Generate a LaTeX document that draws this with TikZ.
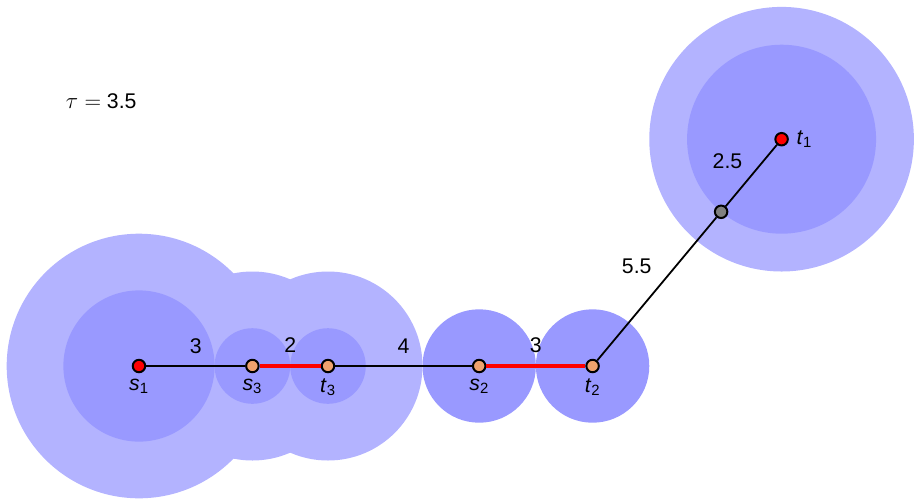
\documentclass[tikz,border=0pt]{standalone}
\usepackage{fontspec}
\setmainfont{Liberation Sans}
\usetikzlibrary{calc,positioning}
\definecolor{ballout}{HTML}{B3B3FF}
\definecolor{ballin}{HTML}{9999FF}
\definecolor{termred}{HTML}{FF0000}
\definecolor{termorange}{HTML}{EFA26E}
\definecolor{steiner}{HTML}{808080}

\begin{document}
\begin{tikzpicture}[
  vert/.style={draw,circle,line width=1.5pt,inner sep=0pt,minimum size=0.33cm},
  lbl/.style={font=\fontsize{16}{19}\selectfont},
  edge/.style={line width=1.35pt},
  matched/.style={line width=3pt,termred}]
  \useasboundingbox (-3.677,-3.492) rectangle (20.503,9.683);

  % terminal positions
  \coordinate (ps1) at (0,0);
  \coordinate (ps3) at (3,0);
  \coordinate (pt3) at (5,0);
  \coordinate (ps2) at (9,0);
  \coordinate (pt2) at (12,0);
  \coordinate (pt1) at (17,6);
  \coordinate (pm) at ($(pt2)!0.68!(pt1)$);

  % balls
  \fill[ballout] (ps1) circle (3.5);
  \fill[ballout] (ps3) circle (2.5);
  \fill[ballout] (pt3) circle (2.5);
  \fill[ballout] (pt1) circle (3.5);
  \fill[ballin] (ps1) circle (2);
  \fill[ballin] (ps3) circle (1);
  \fill[ballin] (pt3) circle (1);
  \fill[ballin] (pt1) circle (2.5);
  \fill[ballin] (ps2) circle (1.5);
  \fill[ballin] (pt2) circle (1.5);

  \node[lbl] (tau) at (-1,7) {$\tau =$ 3.5};

  % vertices
  \node[vert,fill=termred] (s1) at (ps1) {};
  \node[vert,fill=termorange] (s3) at (ps3) {};
  \node[vert,fill=termorange] (t3) at (pt3) {};
  \node[vert,fill=termorange] (s2) at (ps2) {};
  \node[vert,fill=termorange] (t2) at (pt2) {};
  \node[vert,fill=termred] (t1) at (pt1) {};
  \node[vert,fill=steiner] (m) at (pm) {};

  % edges
  \draw[edge] (s1) -- node[lbl,above=0.18cm] {3} (s3);
  \draw[matched] (s3) -- node[lbl,above=0.18cm,black] {2} (t3);
  \draw[edge] (t3) -- node[lbl,above=0.18cm] {4} (s2);
  \draw[matched] (s2) -- node[lbl,above=0.18cm,black] {3} (t2);
  \draw[edge] (t2) -- node[lbl,above left=0.25cm and 0cm] {5.5} (m);
  \draw[edge] (m) -- node[lbl,above left=0.05cm and 0.1cm] {2.5} (t1);

  % vertex names
  \node[lbl,below=0.02cm of s1] (ls1) {\textit{s}\textsubscript{1}};
  \node[lbl,below=0.02cm of s3] (ls3) {\textit{s}\textsubscript{3}};
  \node[lbl,below=0.02cm of t3] (lt3) {\textit{t}\textsubscript{3}};
  \node[lbl,below=0.02cm of s2] (ls2) {\textit{s}\textsubscript{2}};
  \node[lbl,below=0.02cm of t2] (lt2) {\textit{t}\textsubscript{2}};
  \node[lbl,right=0.08cm of t1] (lt1) {\textit{t}\textsubscript{1}};
\end{tikzpicture}
\end{document}
